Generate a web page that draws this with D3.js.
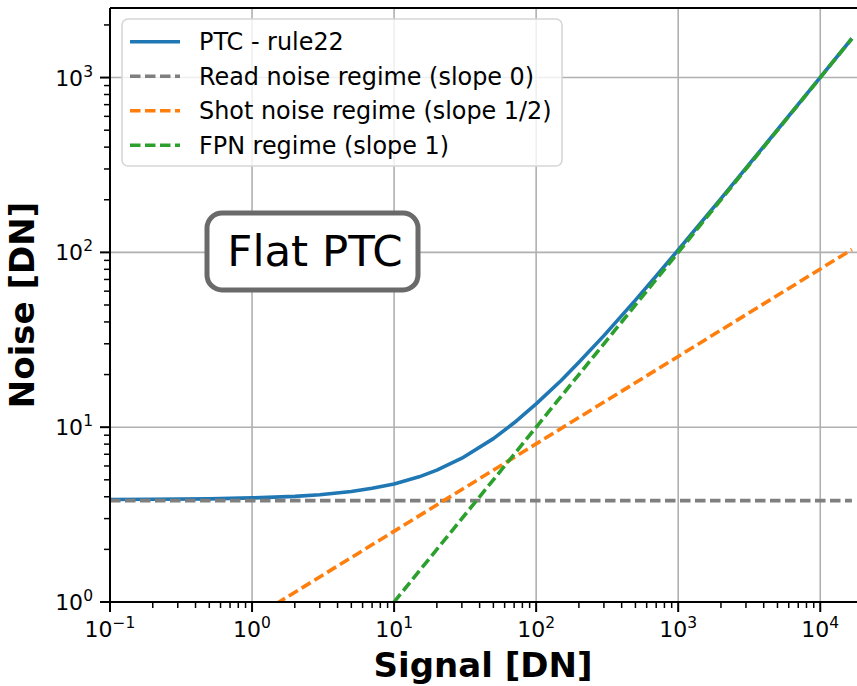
<!DOCTYPE html>
<html>
<head>
<meta charset="utf-8">
<script src="https://cdn.jsdelivr.net/npm/d3@7"></script>
<style>
  body { margin: 0; background: #fff; }
  svg { display: block; font-family: "DejaVu Sans", sans-serif; }
</style>
</head>
<body>
<div id="chart"></div>
<script>
// Signal [DN] sample points of the measured PTC curve
const ptcSignal = [0.1, 0.2, 0.5, 1, 2, 3, 5, 7, 10, 15, 20, 30, 50, 70, 100, 150, 200, 300, 500, 700, 1000, 2000, 5000, 10000, 16700];
// Noise [DN]
const ptcNoise = [3.86, 3.87, 3.89, 3.94, 4.02, 4.11, 4.29, 4.47, 4.73, 5.2, 5.68, 6.65, 8.6, 10.6, 13.6, 18.5, 23.5, 33.4, 53.3, 73.3, 103.2, 203, 503, 1003, 1673];

// regime guide lines (straight in log-log, two end points each)
const guideSignal = [0.1, 16700];
const readNoise = [3.8, 3.8];
const shotNoise = [0.254, 103.8];
const fpnNoise = [0.01, 1670];

const legendLabels = ["PTC - rule22", "Read noise regime (slope 0)", "Shot noise regime (slope 1/2)", "FPN regime (slope 1)"];
const colors = ["#1f77b4", "#7f7f7f", "#ff7f0e", "#2ca02c"];

const xMajor = [0.1, 1, 10, 100, 1000, 10000];
const xExp = ["\u22121", "0", "1", "2", "3", "4"];
const yMajor = [1, 10, 100, 1000];
const yExp = ["0", "1", "2", "3"];

const W = 857, H = 686;
const plot = { left: 110, top: 8, bottom: 602, right: 863 };
const lw = 3.6, dash = "10.5,4.5";

const svg = d3.select("#chart").append("svg")
  .attr("width", W).attr("height", H);

const x = d3.scaleLog().domain([0.1, 20000]).range([plot.left, plot.right]);
const y = d3.scaleLog().domain([1, 2500]).range([plot.bottom, plot.top]);

svg.append("defs").append("clipPath").attr("id", "clip")
  .append("rect")
  .attr("x", plot.left).attr("y", plot.top)
  .attr("width", plot.right - plot.left).attr("height", plot.bottom - plot.top);

// minor ticks
const minors = (lo, hi) => {
  const out = [];
  for (let e = -2; e <= 5; e++) for (let m = 2; m <= 9; m++) {
    const v = m * Math.pow(10, e);
    if (v > lo && v < hi) out.push(v);
  }
  return out;
};

// grid
const grid = svg.append("g");
grid.selectAll(".gx").data(xMajor).enter().append("line")
  .attr("x1", d => x(d)).attr("x2", d => x(d))
  .attr("y1", plot.top).attr("y2", plot.bottom)
  .attr("stroke", "#b0b0b0").attr("stroke-width", 1.6);
grid.selectAll(".gy").data(yMajor).enter().append("line")
  .attr("x1", plot.left).attr("x2", plot.right)
  .attr("y1", d => y(d)).attr("y2", d => y(d))
  .attr("stroke", "#b0b0b0").attr("stroke-width", 1.6);

// lines
const lines = svg.append("g").attr("clip-path", "url(#clip)");
const line = d3.line().x(d => x(d[0])).y(d => y(d[1]));

lines.append("path")
  .datum(d3.zip(ptcSignal, ptcNoise))
  .attr("d", line).attr("fill", "none")
  .attr("stroke", colors[0]).attr("stroke-width", lw)
  .attr("stroke-linejoin", "round");

[readNoise, shotNoise, fpnNoise].forEach((vals, i) => {
  lines.append("path")
    .datum(d3.zip(guideSignal, vals))
    .attr("d", line).attr("fill", "none")
    .attr("stroke", colors[i + 1]).attr("stroke-width", lw)
    .attr("stroke-dasharray", dash);
});

// axes
const xAxis = svg.append("g").attr("transform", `translate(0,${plot.bottom})`);
xAxis.append("line").attr("x1", plot.left).attr("x2", plot.right)
  .attr("stroke", "#000").attr("stroke-width", 2);
xAxis.selectAll(".maj").data(xMajor).enter().append("line")
  .attr("x1", d => x(d)).attr("x2", d => x(d)).attr("y1", 0).attr("y2", 10)
  .attr("stroke", "#000").attr("stroke-width", 2);
xAxis.selectAll(".min").data(minors(0.1, 20000)).enter().append("line")
  .attr("x1", d => x(d)).attr("x2", d => x(d)).attr("y1", 0).attr("y2", 6)
  .attr("stroke", "#000").attr("stroke-width", 1.5);
const xl = xAxis.selectAll(".lab").data(xMajor).enter().append("text")
  .attr("x", d => x(d)).attr("y", 35)
  .attr("text-anchor", "middle").attr("font-size", 22);
xl.append("tspan").text("10");
xl.append("tspan").attr("dy", -9).attr("font-size", 15.5).text((d, i) => xExp[i]);

const yAxis = svg.append("g").attr("transform", `translate(${plot.left},0)`);
yAxis.append("line").attr("y1", plot.top).attr("y2", plot.bottom)
  .attr("stroke", "#000").attr("stroke-width", 2);
yAxis.selectAll(".maj").data(yMajor).enter().append("line")
  .attr("y1", d => y(d)).attr("y2", d => y(d)).attr("x1", 0).attr("x2", -10)
  .attr("stroke", "#000").attr("stroke-width", 2);
yAxis.selectAll(".min").data(minors(1, 2500)).enter().append("line")
  .attr("y1", d => y(d)).attr("y2", d => y(d)).attr("x1", 0).attr("x2", -6)
  .attr("stroke", "#000").attr("stroke-width", 1.5);
const yl = yAxis.selectAll(".lab").data(yMajor).enter().append("text")
  .attr("x", -17).attr("y", d => y(d) + 8)
  .attr("text-anchor", "end").attr("font-size", 22);
yl.append("tspan").text("10");
yl.append("tspan").attr("dy", -9).attr("font-size", 15.5).text((d, i) => yExp[i]);

// top spine
svg.append("line").attr("x1", plot.left).attr("x2", plot.right)
  .attr("y1", plot.top).attr("y2", plot.top)
  .attr("stroke", "#000").attr("stroke-width", 2);

// axis titles
svg.append("text")
  .attr("x", 483).attr("y", 677)
  .attr("text-anchor", "middle")
  .attr("font-size", 34).attr("font-weight", "bold")
  .text("Signal [DN]");
svg.append("text")
  .attr("transform", `translate(34,${(plot.top + plot.bottom) / 2}) rotate(-90)`)
  .attr("text-anchor", "middle")
  .attr("font-size", 34).attr("font-weight", "bold")
  .text("Noise [DN]");

// legend
const lg = svg.append("g").attr("transform", "translate(122,19)");
lg.append("rect")
  .attr("width", 440).attr("height", 147).attr("rx", 6)
  .attr("fill", "rgba(255,255,255,0.8)")
  .attr("stroke", "#d6d6d6").attr("stroke-width", 1.6);
legendLabels.forEach((lab, i) => {
  const cy = 22.7 + i * 34.5;
  lg.append("line")
    .attr("x1", 8).attr("x2", 58).attr("y1", cy).attr("y2", cy)
    .attr("stroke", colors[i]).attr("stroke-width", lw)
    .attr("stroke-dasharray", i === 0 ? null : dash);
  lg.append("text")
    .attr("x", 77).attr("y", cy).attr("dy", "0.36em")
    .attr("font-size", 23.9).attr("fill", "#000")
    .text(lab);
});

// annotation
const ann = svg.append("g");
ann.append("rect")
  .attr("x", 207).attr("y", 213).attr("width", 211).attr("height", 77)
  .attr("rx", 15)
  .attr("fill", "#fff").attr("stroke", "#6a6a6a").attr("stroke-width", 5);
ann.append("text")
  .attr("x", 315).attr("y", 266)
  .attr("text-anchor", "middle")
  .attr("font-size", 43.5)
  .text("Flat PTC");
</script>
</body>
</html>
